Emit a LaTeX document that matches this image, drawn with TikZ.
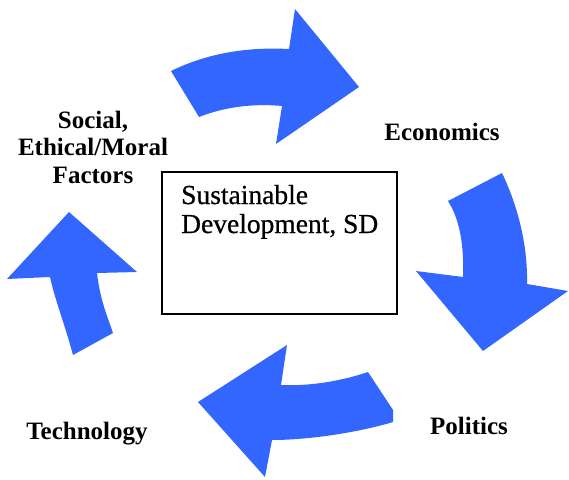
\documentclass[tikz,border=0pt]{standalone}
\usepackage{fontspec}
\setmainfont{Liberation Serif}
\newfontfamily\sdfont[FakeBold=0.7]{Liberation Serif}
\definecolor{arrowblue}{RGB}{51,102,255}
\tikzset{
  bigarrow/.style={fill=arrowblue, draw=none},
  lbl/.style={font=\fontsize{25}{27.5}\selectfont\bfseries, inner sep=0pt, align=center},
  sdbox/.style={draw=black, line width=2pt},
  sdtext/.style={font=\sdfont\fontsize{27.5}{29}\selectfont, inner sep=0pt, align=left}
}
\begin{document}
\begin{tikzpicture}[x=1pt,y=-1pt]
\useasboundingbox (0,0) rectangle (569,479);
% top arrow
\fill[bigarrow] (171,71) .. controls (210,52) and (250,47) .. (289,49)
  -- (295,9) -- (359,87) -- (276,144) -- (282,106)
  .. controls (250,103) and (222,108) .. (199,117) -- cycle;
% right arrow
\fill[bigarrow] (448,201) -- (502,173) .. controls (515,200) and (528,240) .. (527,284)
  -- (568,291) -- (483,351) -- (416,271) -- (463,277)
  .. controls (464,245) and (460,220) .. (448,201) -- cycle;
% bottom arrow
\fill[bigarrow] (368,372) -- (393,410) -- (393,422)
  .. controls (360,432) and (310,440) .. (272,440)
  -- (265,477) -- (198,402) -- (287,345) -- (281,385)
  .. controls (305,386) and (335,383) .. (368,372) -- cycle;
% left arrow
\fill[bigarrow] (69,212) -- (137,272) -- (97,273)
  .. controls (100,300) and (108,318) .. (113,333)
  -- (73,355) .. controls (65,325) and (55,300) .. (50,277)
  -- (7,279) -- cycle;
% box
\node[sdbox, minimum width=235pt, minimum height=142pt, inner sep=0pt] (sd) at (279.5,243) {};
\node[sdtext, anchor=base west] (sdt) at (181,233) {Sustainable\\Development, SD};
% labels
\node[lbl, anchor=base] (econ) at (442,140) {Economics};
\node[lbl, anchor=base] (pol) at (469,434) {Politics};
\node[lbl, anchor=base] (tech) at (87,439) {Technology};
\node[lbl, anchor=base] (soc) at (93,183) {Social,\\Ethical/Moral\\Factors};
\end{tikzpicture}
\end{document}
